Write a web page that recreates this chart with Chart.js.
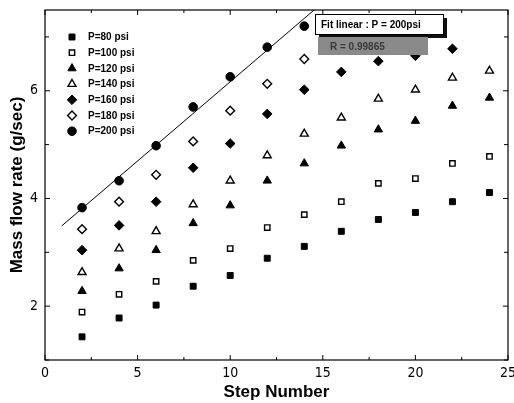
<!DOCTYPE html>
<html>
<head>
<meta charset="utf-8">
<script src="https://cdn.jsdelivr.net/npm/chart.js@4/dist/chart.umd.min.js"></script>
<style>
  html, body { margin: 0; padding: 0; background: #fff; }
  #wrap { width: 514px; height: 403px; position: relative; }
</style>
</head>
<body>
<div id="wrap"><canvas id="chart"></canvas></div>
<script>
// Mass flow rate vs step number, one series per supply pressure
const steps = [2, 4, 6, 8, 10, 12, 14, 16, 18, 20, 22, 24];
const p80  = [1.43, 1.78, 2.02, 2.37, 2.57, 2.89, 3.11, 3.39, 3.61, 3.74, 3.94, 4.11];
const p100 = [1.89, 2.22, 2.46, 2.85, 3.07, 3.46, 3.70, 3.94, 4.28, 4.37, 4.65, 4.78];
const p120 = [2.28, 2.70, 3.04, 3.54, 3.87, 4.33, 4.65, 4.98, 5.28, 5.44, 5.72, 5.87];
const p140 = [2.63, 3.07, 3.39, 3.89, 4.33, 4.80, 5.20, 5.50, 5.85, 6.02, 6.24, 6.37];
const p160 = [3.04, 3.50, 3.94, 4.57, 5.02, 5.57, 6.02, 6.35, 6.55, 6.65, 6.78];
const p180 = [3.43, 3.94, 4.44, 5.06, 5.63, 6.13, 6.59];
const p200 = [3.83, 4.33, 4.98, 5.70, 6.26, 6.81, 7.20];

// linear fit for P = 200 psi (end points of the drawn line)
const fitX = [0.9, 14.7];
const fitY = [3.49, 7.55];

const xTicks = [0, 5, 10, 15, 20, 25];
const yTicks = [2, 4, 6];

const toPoints = (xs, ys) => ys.map((y, i) => ({ x: xs[i], y }));

function series(label, ys, style, radius, filled) {
  return {
    label,
    data: toPoints(steps, ys),
    showLine: false,
    pointStyle: style,
    pointRadius: radius,
    pointHoverRadius: radius,
    pointBorderWidth: filled ? 1 : 1.4,
    pointBackgroundColor: filled ? "#000" : "#fff",
    pointBorderColor: "#000",
  };
}

const datasets = [
  series("P=80 psi", p80, "rect", 4.2, true),
  series("P=100 psi", p100, "rect", 3.8, false),
  series("P=120 psi", p120, "triangle", 4.8, true),
  series("P=140 psi", p140, "triangle", 4.6, false),
  series("P=160 psi", p160, "rectRot", 4.8, true),
  series("P=180 psi", p180, "rectRot", 4.4, false),
  series("P=200 psi", p200, "circle", 4.3, true),
  {
    label: "fit",
    data: toPoints(fitX, fitY),
    showLine: true,
    pointRadius: 0,
    borderColor: "#000",
    borderWidth: 1,
    fill: false,
  },
];

// frame, inward ticks, legend and the fit label boxes
const decor = {
  id: "decor",
  afterDatasetsDraw(chart) {
    const { ctx, chartArea: a, scales } = chart;
    const xs = scales.x, ys = scales.y;
    ctx.save();
    ctx.strokeStyle = "#000";
    ctx.lineWidth = 1.2;
    ctx.strokeRect(a.left, a.top, a.right - a.left, a.bottom - a.top);

    ctx.lineWidth = 1;
    ctx.beginPath();
    for (let v = 0; v <= 25; v += 2.5) {
      const px = xs.getPixelForValue(v);
      const len = v % 5 === 0 ? 5 : 3;
      ctx.moveTo(px, a.bottom); ctx.lineTo(px, a.bottom - len);
      ctx.moveTo(px, a.top); ctx.lineTo(px, a.top + len);
    }
    for (let v = 1; v <= 7; v += 1) {
      const py = ys.getPixelForValue(v);
      const len = v % 2 === 0 ? 5 : 4;
      ctx.moveTo(a.left, py); ctx.lineTo(a.left + len, py);
      ctx.moveTo(a.right, py); ctx.lineTo(a.right - len, py);
    }
    ctx.stroke();

    // legend
    const drawPoint = Chart.helpers && Chart.helpers.drawPoint;
    ctx.font = "bold 10px 'Liberation Sans', Arial, sans-serif";
    ctx.textBaseline = "middle";
    ctx.textAlign = "left";
    chart.data.datasets.filter((d) => d.label !== "fit").forEach((d, i) => {
      const cx = a.left + 27;
      const cy = a.top + 27 + i * 15.7;
      ctx.fillStyle = d.pointBackgroundColor;
      ctx.strokeStyle = d.pointBorderColor;
      ctx.lineWidth = d.pointBorderWidth;
      if (drawPoint) drawPoint(ctx, { pointStyle: d.pointStyle, radius: d.pointRadius, borderWidth: d.pointBorderWidth, rotation: 0 }, cx, cy);
      ctx.fillStyle = "#000";
      ctx.fillText(d.label, cx + 16, cy + 0.5);
    });

    // fit label box with shadow
    const bx = a.left + 270, by = a.top + 4, bw = 128, bh = 20;
    ctx.fillStyle = "#111";
    ctx.fillRect(bx + 4, by + 4, bw, bh);
    ctx.fillStyle = "#fff";
    ctx.fillRect(bx, by, bw, bh);
    ctx.strokeStyle = "#000";
    ctx.lineWidth = 1;
    ctx.strokeRect(bx + 0.5, by + 0.5, bw, bh);
    ctx.fillStyle = "#000";
    ctx.font = "bold 10px 'Liberation Sans', Arial, sans-serif";
    ctx.fillText("Fit linear : P = 200psi", bx + 6, by + bh / 2 + 1);

    // shaded stats box
    const gx = a.left + 273, gy = a.top + 27, gw = 110, gh = 18;
    ctx.fillStyle = "#8a8a8a";
    ctx.fillRect(gx, gy, gw, gh);
    ctx.fillStyle = "#3a3a3a";
    ctx.font = "bold 10px 'Liberation Sans', Arial, sans-serif";
    ctx.fillText("R = 0.99865", gx + 12, gy + gh / 2 + 1);
    ctx.restore();
  },
};

new Chart(document.getElementById("chart"), {
  type: "scatter",
  data: { datasets },
  options: {
    responsive: true,
    maintainAspectRatio: false,
    animation: false,
    layout: { padding: { top: 10, right: 4, left: 0, bottom: 0 } },
    plugins: { legend: { display: false }, tooltip: { enabled: false } },
    scales: {
      x: {
        type: "linear",
        min: 0,
        max: 25,
        afterBuildTicks: (s) => { s.ticks = xTicks.map((v) => ({ value: v })); },
        afterFit: (s) => { s.height = 43; s.paddingLeft = 0; s.paddingRight = 0; },
        grid: { display: false, drawTicks: false },
        border: { display: false },
        ticks: { padding: 5, color: "#000", font: { size: 14, family: "'Liberation Sans Narrow', 'DejaVu Sans Condensed', Arial" } },
        title: { display: true, text: "Step Number", color: "#000", padding: { top: 0, bottom: 0 }, font: { size: 17, weight: "bold", family: "'Liberation Sans', Arial" } },
      },
      y: {
        type: "linear",
        min: 1,
        max: 7.5,
        afterBuildTicks: (s) => { s.ticks = yTicks.map((v) => ({ value: v })); },
        afterFit: (s) => { s.width = 45; s.paddingTop = 0; s.paddingBottom = 0; },
        grid: { display: false, drawTicks: false },
        border: { display: false },
        ticks: { padding: 7, color: "#000", font: { size: 14, family: "'Liberation Sans Narrow', 'DejaVu Sans Condensed', Arial" } },
        title: { display: true, text: "Mass flow rate (g/sec)", color: "#000", padding: { top: 7, bottom: 0 }, font: { size: 17, weight: "bold", family: "'Liberation Sans', Arial" } },
      },
    },
  },
  plugins: [decor],
});
</script>
</body>
</html>
